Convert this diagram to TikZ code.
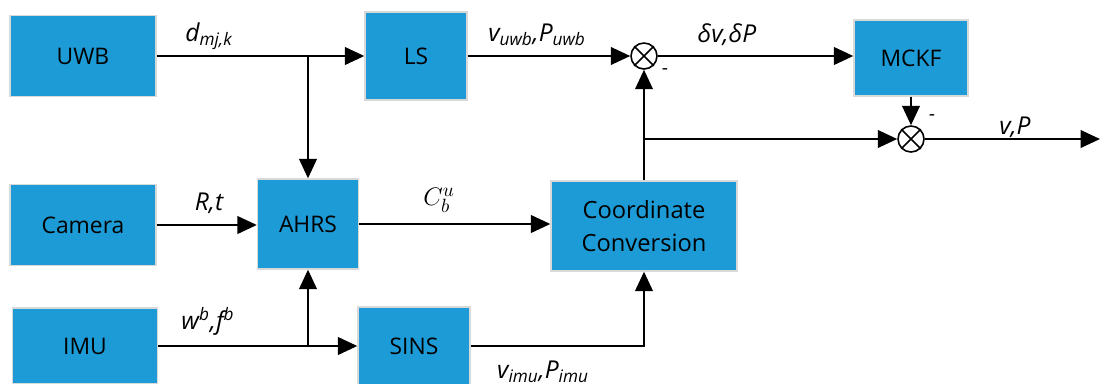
\documentclass[tikz,border=0pt]{standalone}
\usepackage{fontspec}
\setmainfont{Open Sans}
\usetikzlibrary{arrows.meta}

\definecolor{boxblue}{RGB}{29,155,214}

\begin{document}
\begin{tikzpicture}[x=0.02cm,y=-0.02cm,
  blk/.style={fill=boxblue,draw=black!15,line width=0.8pt,inner sep=0pt,align=center,
    font=\fontsize{13}{18.5}\selectfont},
  sum/.style={circle,draw,line width=0.9pt,minimum size=0.52cm,inner sep=0pt},
  lbl/.style={font=\fontsize{14}{16}\selectfont\itshape},
  >={Triangle[length=11pt,width=10pt]}]

\clip (0,0) rectangle (1100,383);

\node[blk,minimum width=2.92cm,minimum height=1.62cm] (uwb) at (83,56) {UWB};
\node[blk,minimum width=2.04cm,minimum height=1.76cm] (ls) at (416,56) {LS};
\node[blk,minimum width=2.28cm,minimum height=1.52cm] (mckf) at (911,58) {MCKF};
\node[blk,minimum width=2.92cm,minimum height=1.62cm] (camera) at (83,225) {Camera};
\node[blk,minimum width=2.02cm,minimum height=1.8cm] (ahrs) at (308,224) {AHRS};
\node[blk,minimum width=3.72cm,minimum height=1.8cm,font=\fontsize{13.5}{19}\selectfont] (cc) at (644,226) {Coordinate\\Conversion};
\node[blk,minimum width=2.9cm,minimum height=1.52cm] (imu) at (85,346) {IMU};
\node[blk,minimum width=2.24cm,minimum height=1.56cm] (sins) at (414,346) {SINS};

\node[sum] (s1) at (644,56) {};
\node[sum] (s2) at (911,139) {};
\draw[line width=0.9pt] (s1.north west) -- (s1.south east) (s1.north east) -- (s1.south west);
\draw[line width=0.9pt] (s2.north west) -- (s2.south east) (s2.north east) -- (s2.south west);

\coordinate (out) at (1100,139);

\draw[->,line width=1.1pt] (uwb) -- (ls);
\draw[->,line width=1.1pt] (ahrs |- uwb) -- (ahrs);
\draw[->,line width=1.1pt] (ls) -- (s1);
\draw[->,line width=1.1pt] (s1) -- (s1 -| mckf.west);
\draw[->,line width=1.1pt] (cc) -- (s1);
\draw[->,line width=1.1pt] (cc |- s2) -- (s2);
\draw[->,line width=1.1pt] (mckf) -- (s2);
\draw[->,line width=1.1pt] (s2) -- (out);

\draw[->,line width=1.1pt] (camera) -- (camera -| ahrs.west);
\draw[->,line width=1.1pt] (ahrs.east) -- (ahrs.east -| cc.west);
\draw[->,line width=1.1pt] (imu) -- (sins);
\draw[->,line width=1.1pt] (ahrs |- imu) -- (ahrs);
\draw[->,line width=1.1pt] (sins.east) -| (cc.south);

\node[lbl] at (209,36) {d\textsubscript{mj,k}};
\node[lbl] at (537,35) {v\textsubscript{uwb},P\textsubscript{uwb}};
\node[font=\fontsize{11}{12}\selectfont] at (665,72) {-};
\node[lbl] at (727,35) {δv,δP};
\node[font=\fontsize{11}{12}\selectfont] at (932,118) {-};
\node[lbl] at (1015,127) {v,P};
\node[lbl] at (209,203) {R,t};
\node[font=\fontsize{15}{17}\selectfont] at (439,200) {$C_b^u$};
\node[lbl] at (208,321) {w\textsuperscript{b},f\textsuperscript{b}};
\node[lbl] at (543,372) {v\textsubscript{imu},P\textsubscript{imu}};
\end{tikzpicture}
\end{document}
